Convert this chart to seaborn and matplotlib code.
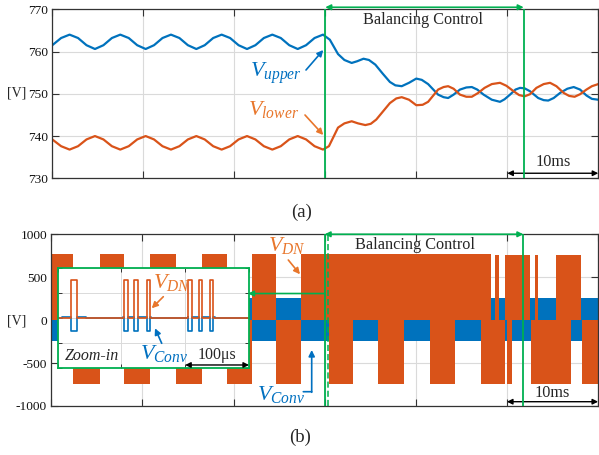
import numpy as np
import pandas as pd
import matplotlib
matplotlib.use("Agg")
import matplotlib.pyplot as plt
import seaborn as sns

# ---------------- (a) capacitor voltages [V] vs time [ms] ----------------
t_pre = [0.0, 0.97, 1.9, 2.83, 3.76, 4.69, 5.62, 6.55, 7.47, 8.4, 9.33, 10.26,
         11.18, 12.11, 13.04, 13.97, 14.9, 15.83, 16.75, 17.68, 18.61, 19.54,
         20.47, 21.4, 22.32, 23.25, 24.18, 25.11, 26.04, 26.97, 27.89, 28.82]
v_upper_pre = [761.5, 763.2, 764.0, 763.2, 761.5, 760.6, 761.5, 763.2, 764.0, 763.2,
               761.5, 760.6, 761.5, 763.2, 764.0, 763.2, 761.5, 760.6, 761.5, 763.2,
               764.0, 763.2, 761.5, 760.6, 761.5, 763.2, 764.0, 763.2, 761.5, 760.6,
               761.5, 763.2]
v_lower_pre = [739.2, 737.6, 736.8, 737.6, 739.2, 740.0, 739.2, 737.6, 736.8, 737.6,
               739.2, 740.0, 739.2, 737.6, 736.8, 737.6, 739.2, 740.0, 739.2, 737.6,
               736.8, 737.6, 739.2, 740.0, 739.2, 737.6, 736.8, 737.6, 739.2, 740.0,
               739.2, 737.6]

t_upper_post = [29.75, 30.5, 31.4, 32.1, 32.9, 33.5, 34.2, 34.8, 35.5, 36.3, 37.1, 37.7,
                38.4, 39.2, 40.0, 40.6, 41.3, 42.4, 43.0, 43.5, 44.1, 44.8, 45.5, 46.1,
                46.7, 47.4, 48.3, 49.2, 49.7, 50.3, 50.9, 51.4, 51.9, 52.5, 53.4, 54.0,
                54.5, 55.1, 55.8, 56.6, 57.3, 58.0, 58.7, 59.3, 60.0]
v_upper_post = [764.0, 762.8, 759.4, 758.0, 757.3, 757.7, 758.3, 758.0, 756.9, 754.8, 752.8, 752.0,
                751.8, 752.6, 753.6, 753.3, 752.3, 749.8, 749.2, 749.0, 749.8, 751.0, 751.5, 751.6,
                751.0, 749.8, 748.6, 748.1, 748.7, 749.8, 751.0, 751.4, 751.3, 750.6, 749.0, 748.5,
                748.4, 749.0, 750.2, 751.2, 751.6, 751.0, 749.6, 748.8, 748.6]

t_lower_post = [29.75, 30.4, 31.4, 32.1, 32.9, 33.6, 34.4, 35.0, 35.6, 37.1, 37.8, 38.4,
                39.2, 40.0, 40.7, 41.3, 42.4, 43.0, 43.5, 44.1, 44.8, 45.5, 46.1, 46.8,
                47.5, 48.3, 49.2, 49.9, 50.7, 51.3, 51.9, 52.5, 53.2, 54.0, 54.7, 55.4,
                56.2, 56.8, 57.4, 58.0, 58.7, 59.3, 60.0]
v_lower_post = [736.8, 737.6, 742.0, 743.0, 743.5, 743.0, 742.6, 742.9, 743.9, 747.8, 748.9, 749.2,
                748.6, 747.3, 747.4, 748.1, 751.0, 751.6, 751.8, 751.2, 749.8, 749.3, 749.3, 750.2,
                751.4, 752.3, 752.6, 751.9, 750.6, 749.7, 749.4, 749.9, 751.4, 752.3, 752.6, 751.8,
                750.2, 749.5, 749.3, 749.9, 751.0, 751.8, 752.3]

balance_start_ms = 30.0
balance_end_ms = 51.8
dashed_ms = 30.36

# ---------------- (b) switching voltages [V] vs time [ms] ----------------
vdn_pos_start = [0.0, 5.30, 10.87, 16.56, 22.05, 27.45, 48.72, 49.75, 53.09, 55.39]
vdn_pos_end = [2.38, 8.03, 13.68, 19.29, 24.68, 48.28, 49.09, 52.48, 53.39, 58.12]
vdn_pos_level = [770, 770, 770, 770, 770, 770, 762, 762, 762, 762]
vdn_neg_start = [2.38, 8.03, 13.68, 19.29, 24.68, 30.51, 35.90, 41.55, 47.13, 49.97, 52.59, 58.20]
vdn_neg_end = [5.30, 10.87, 16.56, 22.02, 27.45, 33.06, 38.74, 44.28, 49.75, 50.55, 57.03, 60.0]
vdn_neg_level = [-740, -740, -740, -740, -740, -740, -740, -742, -748, -748, -748, -748]
vconv_high = 260
vconv_low = -245

# zoom-in window (time in microseconds)
pulse_start_us = [20.9, 104.6, 120.3, 139.7, 205.0, 222.3, 239.0]
pulse_end_us = [29.8, 109.9, 126.6, 144.9, 210.4, 226.1, 244.3]
vdn_pulse_level = 760
conv_pulse_level = -250
conv_base_start_us = [7.0, 103.0, 204.0]
conv_base_end_us = [44.0, 147.0, 247.0]
conv_base_level = 20

# ---------------- style ----------------
sns.set_style("ticks")
plt.rcParams["font.family"] = ["Liberation Serif", "DejaVu Serif"]
plt.rcParams["mathtext.fontset"] = "custom"
plt.rcParams["mathtext.it"] = "Liberation Serif:italic"
plt.rcParams["mathtext.rm"] = "Liberation Serif"
plt.rcParams["axes.unicode_minus"] = False

BLUE = "#0072BD"
ORANGE = "#D95319"
BLUE_T = "#0070C0"
ORANGE_T = "#E8762B"
GREEN = "#00B050"
GRID = "#DADADA"
SPINE = "#333333"
W, H = 599, 455

fig = plt.figure(figsize=(5.99, 4.55), dpi=100)
ax1 = fig.add_axes([0.0873, 0.6081, 0.9115, 0.3715])
ax2 = fig.add_axes([0.0855, 0.1077, 0.913, 0.3774])


def style_axes(ax):
    ax.tick_params(direction="in", top=True, right=True, length=5, width=0.8,
                   labelsize=9.6, pad=3, labelbottom=False, colors=SPINE,
                   labelcolor="#111111")
    ax.grid(True, color=GRID, lw=0.8)
    ax.set_axisbelow(True)
    for s in ax.spines.values():
        s.set_color(SPINE)
        s.set_linewidth(0.9)
    ax.set_xlabel("")
    ax.set_ylabel("")


def fp(x, y):
    return (x, H - y)


# ---------------- panel (a) ----------------
df_a = pd.concat([
    pd.DataFrame({"t": t_pre + t_upper_post, "v": v_upper_pre + v_upper_post, "s": "upper"}),
    pd.DataFrame({"t": t_pre + t_lower_post, "v": v_lower_pre + v_lower_post, "s": "lower"}),
])
sns.lineplot(data=df_a, x="t", y="v", hue="s", palette={"upper": BLUE, "lower": ORANGE},
             estimator=None, sort=False, legend=False, lw=1.6, ax=ax1)
ax1.set_xlim(0, 60)
ax1.set_ylim(730, 770)
ax1.set_xticks(range(0, 61, 10))
ax1.set_yticks(range(730, 771, 10))
style_axes(ax1)
for xv in (balance_start_ms, balance_end_ms):
    ax1.axvline(xv, color=GREEN, lw=1.3, zorder=5)
tr1 = ax1.get_xaxis_transform()
ax1.annotate("", xy=(balance_end_ms, 1.012), xytext=(balance_start_ms, 1.012), xycoords=tr1,
             arrowprops=dict(arrowstyle="<|-|>", color=GREEN, lw=1.2, mutation_scale=8,
                             shrinkA=0, shrinkB=0), annotation_clip=False)
ax1.text(40.7, 0.935, "Balancing Control", transform=tr1, ha="center", va="center", fontsize=11.7)
ax1.annotate("", xy=(60, 0.03), xytext=(50, 0.03), xycoords=tr1,
             arrowprops=dict(arrowstyle="<|-|>", color="black", lw=1.0, mutation_scale=8,
                             shrinkA=0, shrinkB=0), annotation_clip=False)
ax1.text(55, 0.095, "10ms", transform=tr1, ha="center", va="center", fontsize=11.7)

ax1.text(250, H - 77.3, r"$V_{upper}$", transform=None, color=BLUE_T, fontsize=16,
         ha="left", va="baseline")
ax1.text(248.3, H - 115, r"$V_{lower}$", transform=None, color=ORANGE_T, fontsize=16,
         ha="left", va="baseline")
ax1.annotate("", xy=fp(323.3, 50), xytext=fp(306, 70), xycoords="figure pixels",
             textcoords="figure pixels",
             arrowprops=dict(arrowstyle="-|>", color=BLUE_T, lw=1.2, mutation_scale=9,
                             shrinkA=0, shrinkB=0), annotation_clip=False)
ax1.annotate("", xy=fp(323.3, 135), xytext=fp(305, 115), xycoords="figure pixels",
             textcoords="figure pixels",
             arrowprops=dict(arrowstyle="-|>", color=ORANGE_T, lw=1.2, mutation_scale=9,
                             shrinkA=0, shrinkB=0), annotation_clip=False)

# ---------------- panel (b) ----------------
ax2.fill_between([0, 60], vconv_low, vconv_high, color=BLUE, lw=0, zorder=1)
for s, e, lv in zip(vdn_pos_start, vdn_pos_end, vdn_pos_level):
    ax2.fill_between([s, e], 0, lv, color=ORANGE, lw=0, zorder=2)
for s, e, lv in zip(vdn_neg_start, vdn_neg_end, vdn_neg_level):
    ax2.fill_between([s, e], 0, lv, color=ORANGE, lw=0, zorder=2)
ax2.set_xlim(0, 60)
ax2.set_ylim(-1000, 1000)
ax2.set_xticks(range(0, 61, 10))
ax2.set_yticks([-1000, -500, 0, 500, 1000])
style_axes(ax2)
ax2.axvline(balance_start_ms, color=GREEN, lw=1.3, zorder=5)
ax2.axvline(dashed_ms, color=GREEN, lw=1.1, ls=(0, (4, 2)), zorder=5)
ax2.axvline(balance_end_ms, color=GREEN, lw=1.3, zorder=5)
tr2 = ax2.get_xaxis_transform()
ax2.annotate("", xy=(balance_end_ms, 1.0), xytext=(balance_start_ms, 1.0), xycoords=tr2,
             arrowprops=dict(arrowstyle="<|-|>", color=GREEN, lw=1.2, mutation_scale=8,
                             shrinkA=0, shrinkB=0), annotation_clip=False)
ax2.text(39.9, 0.936, "Balancing Control", transform=tr2, ha="center", va="center", fontsize=11.7)
ax2.annotate("", xy=(60, 0.025), xytext=(50, 0.025), xycoords=tr2,
             arrowprops=dict(arrowstyle="<|-|>", color="black", lw=1.0, mutation_scale=8,
                             shrinkA=0, shrinkB=0), annotation_clip=False)
ax2.text(55, 0.075, "10ms", transform=tr2, ha="center", va="center", fontsize=11.7)
ax2.annotate("", xy=(21.6, 310), xytext=(balance_start_ms, 310),
             arrowprops=dict(arrowstyle="-|>", color=GREEN, lw=1.2, mutation_scale=8,
                             shrinkA=0, shrinkB=0), zorder=6)

ax2.text(268.3, H - 251, r"$V_{DN}$", transform=None, color=ORANGE_T, fontsize=16,
         ha="left", va="baseline")
ax2.annotate("", xy=fp(300, 274.3), xytext=fp(288.3, 260), xycoords="figure pixels",
             textcoords="figure pixels",
             arrowprops=dict(arrowstyle="-|>", color=ORANGE_T, lw=1.2, mutation_scale=9,
                             shrinkA=0, shrinkB=0), annotation_clip=False)
ax2.text(256.7, H - 400, r"$V_{Conv}$", transform=None, color=BLUE_T, fontsize=16,
         ha="left", va="baseline")
ax2.annotate("", xy=fp(311.7, 391.7), xytext=fp(303.3, 391.7), xycoords="figure pixels",
             textcoords="figure pixels",
             arrowprops=dict(arrowstyle="-", color=BLUE_T, lw=1.2, shrinkA=0, shrinkB=0),
             annotation_clip=False)
ax2.annotate("", xy=fp(311.7, 350), xytext=fp(311.7, 392.3), xycoords="figure pixels",
             textcoords="figure pixels",
             arrowprops=dict(arrowstyle="-|>", color=BLUE_T, lw=1.2, mutation_scale=9,
                             shrinkA=0, shrinkB=0), annotation_clip=False)

# ---------------- zoom-in inset ----------------
ax3 = fig.add_axes([57.5 / W, 1 - 368.3 / H, (249 - 57.5) / W, (368.3 - 267.7) / H])
ax3.set_facecolor("white")

ox, oy = [0.0], [0.0]
for s, e in zip(pulse_start_us, pulse_end_us):
    ox += [s, s, e, e]
    oy += [0, vdn_pulse_level, vdn_pulse_level, 0]
ox.append(300.0)
oy.append(0.0)

bx, by = [0.0], [0.0]
for s0, e0 in zip(conv_base_start_us, conv_base_end_us):
    bx += [s0, s0]
    by += [0, conv_base_level]
    for s, e in zip(pulse_start_us, pulse_end_us):
        if s0 <= s <= e0:
            bx += [s, s, e, e]
            by += [conv_base_level, conv_pulse_level, conv_pulse_level, conv_base_level]
    bx += [e0, e0]
    by += [conv_base_level, 0]
bx.append(300.0)
by.append(0.0)

sns.lineplot(x=bx, y=by, color=BLUE, lw=1.2, estimator=None, sort=False, ax=ax3)
sns.lineplot(x=ox, y=oy, color=ORANGE, lw=1.2, estimator=None, sort=False, ax=ax3)
ax3.set_xlim(0, 300)
ax3.set_ylim(-1000, 1000)
ax3.set_xticks([0, 100, 200, 300])
ax3.set_yticks([-1000, -500, 0, 500, 1000])
ax3.tick_params(direction="in", top=True, right=True, length=3, width=0.7,
                labelbottom=False, labelleft=False, colors=SPINE)
ax3.grid(True, color=GRID, lw=0.7)
ax3.set_axisbelow(True)
ax3.set_xlabel("")
ax3.set_ylabel("")
for s in ax3.spines.values():
    s.set_color(GREEN)
    s.set_linewidth(1.3)
tr3 = ax3.get_xaxis_transform()
ax3.annotate("", xy=(300, 0.033), xytext=(200, 0.033), xycoords=tr3,
             arrowprops=dict(arrowstyle="<|-|>", color="black", lw=1.0, mutation_scale=8,
                             shrinkA=0, shrinkB=0), annotation_clip=False)
ax3.text(217.5, H - 359.3, "100μs", transform=None, ha="center", va="baseline", fontsize=11.5)
ax3.text(65, H - 360, "Zoom-in", transform=None, ha="left", va="baseline", fontsize=11.5,
         style="italic")
ax3.text(153.3, H - 288.3, r"$V_{DN}$", transform=None, color=ORANGE_T, fontsize=16,
         ha="left", va="baseline")
ax3.text(140, H - 359.3, r"$V_{Conv}$", transform=None, color=BLUE_T, fontsize=16,
         ha="left", va="baseline")
ax3.annotate("", xy=fp(151.7, 308.3), xytext=fp(163.3, 296.7), xycoords="figure pixels",
             textcoords="figure pixels",
             arrowprops=dict(arrowstyle="-|>", color=ORANGE_T, lw=1.2, mutation_scale=9,
                             shrinkA=0, shrinkB=0), annotation_clip=False)
ax3.annotate("", xy=fp(155, 328.3), xytext=fp(161.7, 343.3), xycoords="figure pixels",
             textcoords="figure pixels",
             arrowprops=dict(arrowstyle="-|>", color=BLUE_T, lw=1.2, mutation_scale=9,
                             shrinkA=0, shrinkB=0), annotation_clip=False)

# ---------------- labels ----------------
fig.text(17 / W, 1 - 93 / H, "[V]", ha="center", va="center", fontsize=10)
fig.text(17 / W, 1 - 321 / H, "[V]", ha="center", va="center", fontsize=10)
fig.text(301.7 / W, 1 - 212.3 / H, "(a)", ha="center", va="center", fontsize=13.5)
fig.text(300 / W, 1 - 437 / H, "(b)", ha="center", va="center", fontsize=13.5)

fig.savefig("out.png", dpi=100)
